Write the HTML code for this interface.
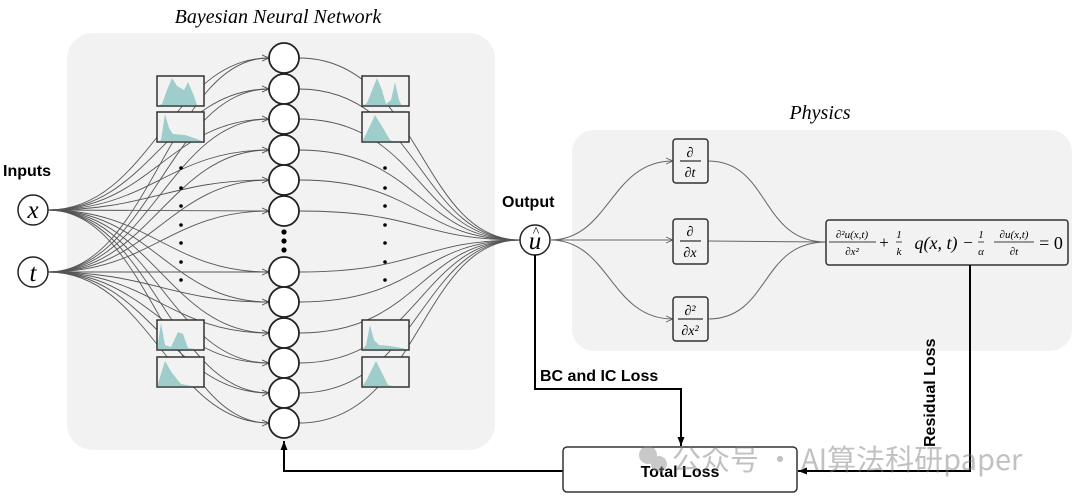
<!DOCTYPE html>
<html><head><meta charset="utf-8"><style>
body{margin:0;background:#fff;width:1080px;height:501px;overflow:hidden}
svg{display:block}
.b{font-family:"Liberation Sans",sans-serif;font-weight:bold}
.m{font-family:"Liberation Serif",serif;font-style:italic}
</style></head><body>
<svg id="s" width="1080" height="501" viewBox="0 0 1080 501" xmlns="http://www.w3.org/2000/svg">
<defs>
<marker id="a" markerWidth="8" markerHeight="8" refX="7" refY="4" orient="auto" markerUnits="userSpaceOnUse"><path d="M0,1 L7,4 L0,7" fill="none" stroke="#555" stroke-width="0.8"/></marker>
<marker id="k" markerWidth="10" markerHeight="10" refX="9" refY="5" orient="auto" markerUnits="userSpaceOnUse"><path d="M0,1.5 L9,5 L0,8.5 Z" fill="#000"/></marker>
</defs>
<rect x="67" y="33" width="428" height="417" rx="26" fill="#f2f2f2"/>
<rect x="572" y="130" width="500" height="221" rx="22" fill="#f2f2f2"/>
<text x="278" y="23" text-anchor="middle" class="m" font-size="20">Bayesian Neural Network</text>
<text x="820" y="119" text-anchor="middle" class="m" font-size="20">Physics</text>
<g id="lines" fill="none" stroke="#555" stroke-width="0.9"></g>
<g id="boxes"></g>
<g fill="#fff" stroke="#222" stroke-width="1.8" id="nodes"></g>
<g fill="#000" id="dots"></g>
<text x="3" y="176" class="b" font-size="16">Inputs</text>
<circle cx="33" cy="210" r="15" fill="#fff" stroke="#222" stroke-width="1.5"/>
<text x="33" y="218" text-anchor="middle" class="m" font-size="25">x</text>
<circle cx="33" cy="272" r="15" fill="#fff" stroke="#222" stroke-width="1.5"/>
<text x="33" y="281" text-anchor="middle" class="m" font-size="25">t</text>
<text x="502" y="207" class="b" font-size="16">Output</text>
<circle cx="535" cy="240" r="15" fill="#fff" stroke="#222" stroke-width="1.5"/>
<text x="535" y="249" text-anchor="middle" class="m" font-size="25">u</text>
<text x="536" y="236" text-anchor="middle" font-family="Liberation Serif" font-size="14">^</text>
<g fill="none" stroke="#666" stroke-width="1">
<path d="M550,240 C610,240 610,161 673,161" marker-end="url(#a)"/>
<path d="M550,240 L673,240" marker-end="url(#a)"/>
<path d="M550,240 C610,240 610,319 673,319" marker-end="url(#a)"/>
<path d="M708,161 C770,161 760,242 826,242"/>
<path d="M708,241 L826,242"/>
<path d="M708,319 C770,319 760,242 826,242"/>
</g>
<g fill="#f2f2f2" stroke="#333" stroke-width="1.5">
<rect x="673" y="139" width="35" height="44" rx="3"/>
<rect x="673" y="219" width="35" height="45" rx="3"/>
<rect x="673" y="297" width="35" height="44" rx="3"/>
<rect x="826" y="220" width="242" height="45" rx="3"/>
</g>
<g font-family="Liberation Serif" text-anchor="middle">
<text x="690" y="157" font-size="14" font-style="italic">∂</text><line x1="680" y1="161" x2="701" y2="161" stroke="#000"/><text x="690" y="177" font-size="14" font-style="italic">∂t</text>
<text x="690" y="236" font-size="14" font-style="italic">∂</text><line x1="680" y1="241" x2="701" y2="241" stroke="#000"/><text x="690" y="257" font-size="14" font-style="italic">∂x</text>
<text x="690" y="315" font-size="14" font-style="italic">∂²</text><line x1="678" y1="319" x2="703" y2="319" stroke="#000"/><text x="690" y="335" font-size="14" font-style="italic">∂x²</text>
</g>
<g font-family="Liberation Serif" font-size="11" font-style="italic" text-anchor="middle">
<text x="852" y="238">∂²u(x,t)</text><line x1="829" y1="242" x2="876" y2="242" stroke="#000" stroke-width="0.7"/><text x="852" y="255">∂x²</text>
<text x="884" y="248" font-size="17" font-style="normal">+</text>
<text x="899" y="238">1</text><line x1="896" y1="242" x2="902" y2="242" stroke="#000" stroke-width="0.7"/><text x="899" y="255">k</text>
<text x="936" y="249" font-size="18">q(x, t)</text>
<text x="968" y="248" font-size="17" font-style="normal">−</text>
<text x="981" y="238">1</text><line x1="978" y1="242" x2="984" y2="242" stroke="#000" stroke-width="0.7"/><text x="981" y="255">α</text>
<text x="1014" y="238">∂u(x,t)</text><line x1="994" y1="242" x2="1034" y2="242" stroke="#000" stroke-width="0.7"/><text x="1014" y="255">∂t</text>
<text x="1051" y="249" font-size="18" font-style="normal">= 0</text>
</g>
<g fill="none" stroke="#000" stroke-width="2">
<path d="M535,255 L535,389 L681,389 L681,446" marker-end="url(#k)"/>
<path d="M970,265 L970,471 L798,471" marker-end="url(#k)"/>
<path d="M563,471 L284,471 L284,441" marker-end="url(#k)"/>
</g>
<rect x="563" y="447" width="234" height="45" rx="4" fill="#fff" stroke="#333" stroke-width="1.5"/>
<text x="680" y="477" text-anchor="middle" class="b" font-size="16">Total Loss</text>
<text x="540" y="381" class="b" font-size="16">BC and IC Loss</text>
<text transform="translate(935,447) rotate(-90)" class="b" font-size="16">Residual Loss</text>
<g opacity="0.45">
<circle cx="648" cy="455" r="9" fill="#888"/><circle cx="659" cy="464" r="8" fill="#888"/>
<text x="672" y="470" font-family="Noto Sans CJK SC,sans-serif" font-size="29" fill="#777">公众号 · AI算法科研paper</text>
</g>
</svg>
<script>
const NS="http://www.w3.org/2000/svg";
const hy=[58,89,119,150,180,211,272,302,333,363,393,423];
const hx=284,r=15;
function el(p,t,a){const e=document.createElementNS(NS,t);for(const k in a)e.setAttribute(k,a[k]);document.getElementById(p).appendChild(e);return e;}
for(const sy of [210,272]){for(const y of hy){
 el("lines","path",{d:`M48,${sy} C150,${sy} 170,${y} ${hx-r},${y}`,"marker-end":"url(#a)"});
}}
for(const y of hy){el("lines","path",{d:`M${hx+r},${y} C420,${y} 420,240 520,240`});}
for(const y of hy)el("nodes","circle",{cx:hx,cy:y,r:r});
for(const y of [232,241,250])el("dots","circle",{cx:hx,cy:y,r:2.6});
for(const x of [181,385])for(const y of [168,188,206,225,243,262,280])el("dots","circle",{cx:x,cy:y,r:1.8});
const shapes=[
"0,30 5,28 10,14 15,2 20,10 27,14 31,6 37,20 40,29 47,30",
"0,30 4,28 8,2 12,16 16,22 28,23 40,27 47,30",
"0,30 4,3 8,25 14,27 21,12 26,14 31,28 47,30",
"0,30 3,20 8,4 15,16 24,27 35,29 47,30",
"0,30 5,27 11,12 15,2 20,14 24,28 29,24 33,6 37,24 40,30",
"0,30 5,20 13,3 21,16 28,28 35,30 47,30",
"0,30 4,25 8,5 12,20 17,25 28,26 40,28 47,30",
"0,30 5,22 14,4 20,16 26,28 35,30 47,30"];
const bx=[[157,76],[157,112],[157,320],[157,357],[362,76],[362,112],[362,320],[362,357]];
bx.forEach(([x,y],i)=>{
 el("boxes","rect",{x:x,y:y,width:47,height:30,fill:"#f2f2f2",stroke:"#333","stroke-width":1.3});
 const pts=shapes[i].split(" ").map(p=>{const [a,b]=p.split(",").map(Number);return (x+a)+","+(y+b)}).join(" ");
 el("boxes","polygon",{points:pts,fill:"#9fcdcb"});
 el("boxes","rect",{x:x,y:y,width:47,height:30,fill:"none",stroke:"#333","stroke-width":1.3});
});
</script>
</body></html>
